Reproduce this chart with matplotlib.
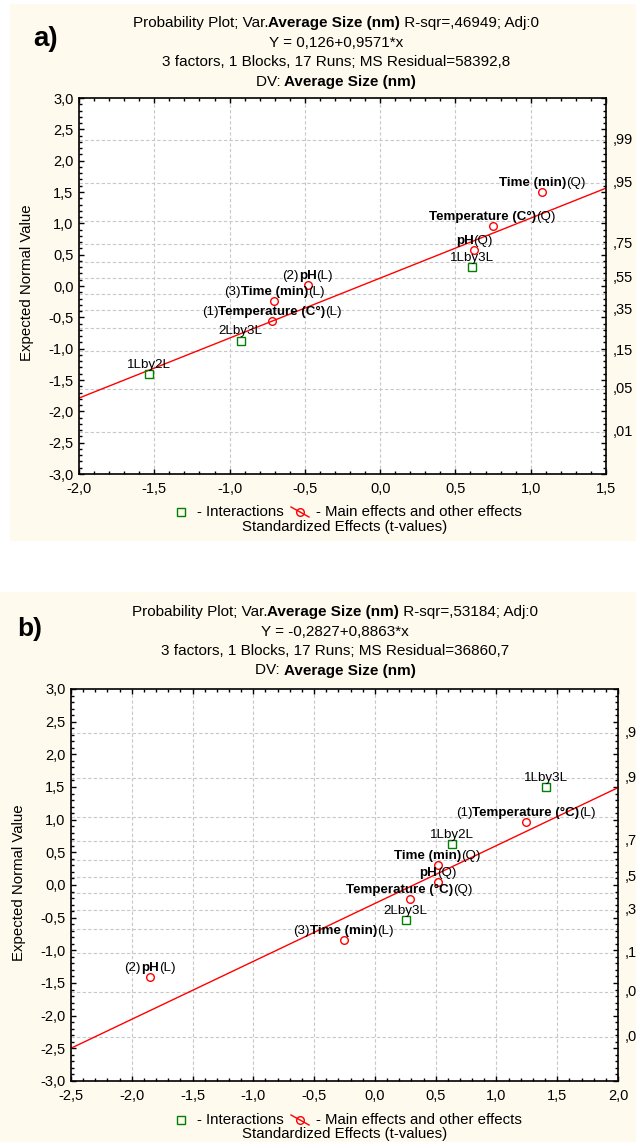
import numpy as np
import matplotlib
matplotlib.use("Agg")
import matplotlib.pyplot as plt
from matplotlib.ticker import MultipleLocator, FuncFormatter
from matplotlib.offsetbox import TextArea, HPacker, AnnotationBbox
from matplotlib.lines import Line2D
from matplotlib.patches import Rectangle

plt.rcParams['font.family'] = ['Liberation Sans', 'DejaVu Sans']

# ---------------- data: panel a ----------------
a_title = [[("Probability Plot; Var.", "normal"), ("Average Size (nm)", "bold"), (" R-sqr=,46949; Adj:0", "normal")],
           [("Y = 0,126+0,9571*x", "normal")],
           [("3 factors, 1 Blocks, 17 Runs; MS Residual=58392,8", "normal")],
           [("DV: ", "normal"), ("Average Size (nm)", "bold")]]
a_intercept = 0.126
a_slope = 0.9571
a_xlim = (-2.0, 1.5)
a_main_prefix = ["", "", "", "(2)", "(3)", "(1)"]
a_main_name = ["Time (min)", "Temperature (C°)", "pH", "pH", "Time (min)", "Temperature (C°)"]
a_main_suffix = ["(Q)", "(Q)", "(Q)", "(L)", "(L)", "(L)"]
a_main_x = [1.075, 0.747, 0.626, -0.481, -0.704, -0.718]
a_main_y = [1.50, 0.96, 0.58, 0.01, -0.24, -0.56]
a_int_name = ["1Lby3L", "2Lby3L", "1Lby2L"]
a_int_x = [0.613, -0.927, -1.535]
a_int_y = [0.30, -0.87, -1.41]

# ---------------- data: panel b ----------------
b_title = [[("Probability Plot; Var.", "normal"), ("Average Size (nm)", "bold"), (" R-sqr=,53184; Adj:0", "normal")],
           [("Y = -0,2827+0,8863*x", "normal")],
           [("3 factors, 1 Blocks, 17 Runs; MS Residual=36860,7", "normal")],
           [("DV: ", "normal"), ("Average Size (nm)", "bold")]]
b_intercept = -0.2827
b_slope = 0.8863
b_xlim = (-2.5, 2.0)
b_main_prefix = ["(1)", "", "", "", "(3)", "(2)"]
b_main_name = ["Temperature (°C)", "Time (min)", "pH", "Temperature (°C)", "Time (min)", "pH"]
b_main_suffix = ["(L)", "(Q)", "(Q)", "(Q)", "(L)", "(L)"]
b_main_x = [1.243, 0.517, 0.517, 0.287, -0.257, -1.85]
b_main_y = [0.97, 0.31, 0.04, -0.215, -0.84, -1.41]
b_int_name = ["1Lby3L", "1Lby2L", "2Lby3L"]
b_int_x = [1.41, 0.637, 0.253]
b_int_y = [1.50, 0.62, -0.53]

# probability scale on the right (expected normal value of each probability)
prob_labels = [",99", ",95", "", ",75", "", ",55", "", ",35", "", ",15", ",05", ",01"]
prob_z = [2.326, 1.645, 1.036, 0.674, 0.385, 0.126, -0.126, -0.385, -0.674, -1.036, -1.645, -2.326]

legend_texts = ["- Interactions", "- Main effects and other effects"]
x_label = "Standardized Effects (t-values)"
y_label = "Expected Normal Value"

# ---------------- figure ----------------
W, H = 636, 1142
fig = plt.figure(figsize=(W / 100, H / 100), dpi=100)
fig.patch.set_facecolor("white")
CREAM = "#FEFAEE"

def fx(px):
    return px / W

def fy(py):
    return 1 - py / H

fig.add_artist(Rectangle((fx(10), fy(541)), fx(W - 10), (541 - 4) / H, transform=fig.transFigure,
                         facecolor=CREAM, edgecolor="none", zorder=-10))
fig.add_artist(Rectangle((0, 0), 1, (H - 592) / H, transform=fig.transFigure,
                         facecolor=CREAM, edgecolor="none", zorder=-10))

FS_TITLE = 11
FS_TICK = 10.5
FS_LAB = 9.6
FS_LEG = 10.8


def rich(target, pieces, xy, xycoords, off_pt=0.0, fs=9.5, align=(0.5, 0.5)):
    kids = [TextArea(t, textprops=dict(fontsize=fs, fontweight=w, color="black")) for t, w in pieces if t]
    box = HPacker(children=kids, align="baseline", pad=0, sep=0)
    ab = AnnotationBbox(box, xy, xycoords=xycoords, xybox=(0, off_pt), boxcoords="offset points",
                        box_alignment=align, frameon=False, pad=0, annotation_clip=False, zorder=5)
    target.add_artist(ab)


def fmt(v, pos=None):
    if abs(v) < 1e-9:
        v = 0.0
    return f"{v:.1f}".replace(".", ",")


def panel(ax, xlim, b0, b1, mx, my, mpre, mname, msuf, ix, iy, iname):
    ax.set_xlim(*xlim)
    ax.set_ylim(-3, 3)
    ax.set_facecolor("white")
    for axis in (ax.xaxis, ax.yaxis):
        axis.set_major_locator(MultipleLocator(0.5))
        axis.set_minor_locator(MultipleLocator(0.1))
        axis.set_major_formatter(FuncFormatter(fmt))
    ax.tick_params(which="both", direction="in", top=True, right=True, width=1, labelsize=FS_TICK)
    ax.tick_params(which="major", length=3.5)
    ax.tick_params(which="minor", length=2.5)
    ax.tick_params(axis="y", pad=4)
    ax.tick_params(axis="x", pad=6)
    for s in ax.spines.values():
        s.set_linewidth(1.2)
    ax.grid(axis="x", which="major", linestyle=(0, (3, 2)), color="#C8C8C8", lw=0.8)
    for z in prob_z:
        ax.axhline(z, linestyle=(0, (3, 2)), color="#C8C8C8", lw=0.8, zorder=0.5)
    ax.set_axisbelow(True)
    xs = np.array(xlim)
    ax.plot(xs, b0 + b1 * xs, color="red", lw=1.0, zorder=2)
    ax.plot(mx, my, "o", mfc="none", mec="red", ms=5.5, mew=1.0, zorder=3)
    ax.plot(ix, iy, "s", mfc="none", mec="#008000", ms=5.5, mew=1.0, zorder=3)
    for x, y, p, n, s in zip(mx, my, mpre, mname, msuf):
        rich(ax, [(p, "normal"), (n, "bold"), (s, "normal")], (x, y), "data", off_pt=6.5, fs=FS_LAB)
    for x, y, n in zip(ix, iy, iname):
        rich(ax, [(n, "normal")], (x, y), "data", off_pt=6.5, fs=FS_LAB)
    for z, lab in zip(prob_z, prob_labels):
        if lab:
            ax.annotate(lab, (1.0, z), xycoords=("axes fraction", "data"), xytext=(5, 0),
                        textcoords="offset points", ha="left", va="center", fontsize=FS_TICK,
                        annotation_clip=False)


def titles(lines, cx, ys):
    for pieces, y in zip(lines, ys):
        rich(fig, pieces, (fx(cx), fy(y)), "figure fraction", fs=FS_TITLE)


def legend(y_leg, y_xl):
    fig.add_artist(Line2D([fx(180.5)], [fy(y_leg)], marker="s", mfc="none", mec="#008000", ms=5.5, mew=1.0,
                          linestyle="none", transform=fig.transFigure))
    fig.text(fx(197), fy(y_leg), legend_texts[0], ha="left", va="center", fontsize=FS_LEG)
    fig.add_artist(Line2D([fx(291), fx(309)], [fy(y_leg - 5), fy(y_leg + 5)], color="red", lw=1.0,
                          transform=fig.transFigure))
    fig.add_artist(Line2D([fx(300)], [fy(y_leg)], marker="o", mfc="none", mec="red", ms=5.5, mew=1.0,
                          linestyle="none", transform=fig.transFigure))
    fig.text(fx(316), fy(y_leg), legend_texts[1], ha="left", va="center", fontsize=FS_LEG)
    fig.text(fx(345), fy(y_xl), x_label, ha="center", va="center", fontsize=FS_LEG)


# ---- panel a ----
ax_a = fig.add_axes([fx(79), fy(474), (606 - 79) / W, (474 - 98) / H])
panel(ax_a, a_xlim, a_intercept, a_slope, a_main_x, a_main_y, a_main_prefix, a_main_name, a_main_suffix,
      a_int_x, a_int_y, a_int_name)
titles(a_title, 336, [23, 43, 62.5, 82])
fig.text(fx(46), fy(39), "a)", ha="center", va="center", fontsize=20, fontweight="bold")
fig.text(fx(27), fy(283), y_label, rotation=90, ha="center", va="center", fontsize=FS_LEG)
legend(512, 527)

# ---- panel b ----
ax_b = fig.add_axes([fx(71), fy(1081), (618 - 71) / W, (1081 - 689) / H])
panel(ax_b, b_xlim, b_intercept, b_slope, b_main_x, b_main_y, b_main_prefix, b_main_name, b_main_suffix,
      b_int_x, b_int_y, b_int_name)
titles(b_title, 335, [612, 631.5, 651, 670.5])
fig.text(fx(30), fy(629), "b)", ha="center", va="center", fontsize=19, fontweight="bold")
fig.text(fx(19), fy(883), y_label, rotation=90, ha="center", va="center", fontsize=FS_LEG)
legend(1120, 1134)

fig.savefig("out.png", dpi=100, facecolor=fig.get_facecolor())
